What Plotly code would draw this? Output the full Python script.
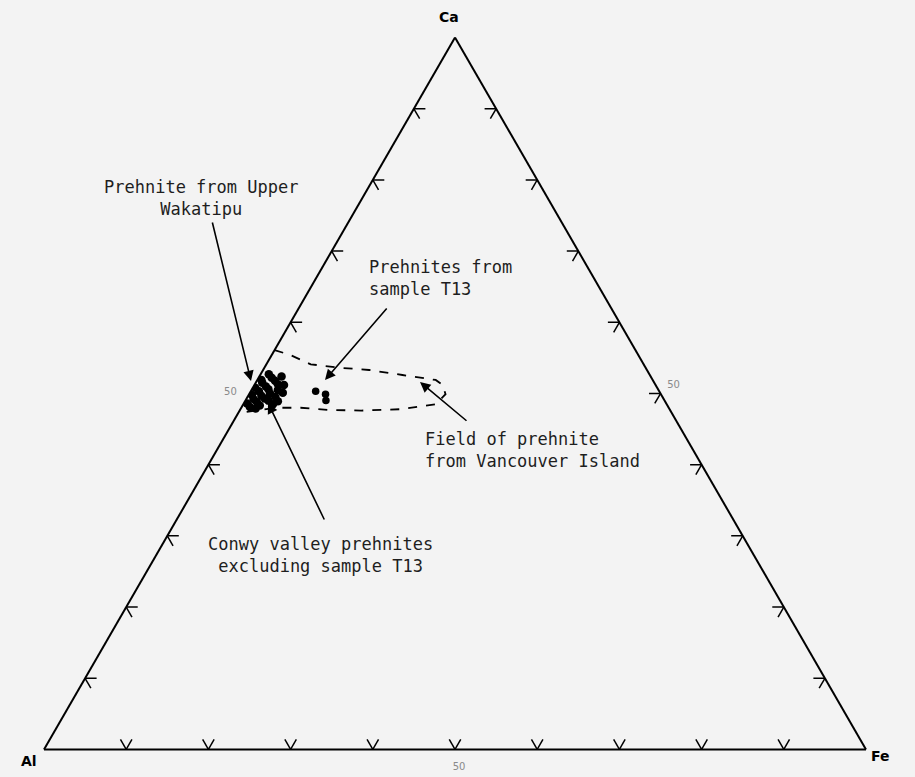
import plotly.graph_objects as go

# ---------------- data (percent, sum = 100) ----------------
# Conwy valley prehnites (excluding T13): Ca, Fe ; Al = 100 - Ca - Fe
conwy_ca = [52.7, 52.2, 51.8, 51.5, 51.3, 51.0, 50.8, 50.6, 50.5, 50.3, 50.0, 49.8,
            49.7, 49.5, 49.3, 49.2, 49.0, 48.8, 48.6, 48.5, 48.3, 48.1, 51.9, 51.2,
            50.1, 48.9, 47.9, 52.4]
conwy_fe = [1.0, 1.6, 2.2, 0.8, 2.8, 1.5, 0.3, 2.0, 3.2, 1.0, 2.5, 0.4,
            1.6, 3.4, 2.2, 0.9, 2.8, 1.5, 0.4, 3.6, 2.1, 1.0, 0.5, 3.6,
            4.0, 4.0, 1.8, 2.7]

# Prehnites from sample T13
t13_ca = [50.3, 49.9, 49.0]
t13_fe = [7.9, 9.3, 9.8]

# Field of prehnite from Vancouver Island (dashed outline)
field_ca = [56.1, 55.4, 54.1, 53.6, 53.3, 52.6, 51.9, 51.2, 49.9, 48.5, 47.8, 47.6,
            47.7, 48.0, 48.0, 47.4]
field_fe = [0.0, 2.3, 5.4, 9.4, 12.9, 17.3, 21.7, 22.9, 23.9, 23.4, 19.6, 14.8,
            10.7, 7.2, 4.3, 0.9]

# Edge tick values (chevrons) and labelled ticks
tick_vals = [10, 20, 30, 40, 50, 60, 70, 80, 90]
label_vals = [50]
label_text = ["50"]

STUB = 1.4  # chevron arm length in percent units


def al_of(ca, fe):
    return [100 - c - f for c, f in zip(ca, fe)]


# ---------------- chevron ticks built from tick values ----------------
ca_t, al_t, fe_t = [], [], []


def seg(p, q):
    for pt in (p, q):
        ca_t.append(pt[0]); al_t.append(pt[1]); fe_t.append(pt[2])
    ca_t.append(None); al_t.append(None); fe_t.append(None)


for v in tick_vals:
    # left edge (Fe = 0), Ca = v
    apex = (v, 100 - v, 0)
    seg(apex, (v, 100 - v - STUB, STUB))
    seg(apex, (v - STUB, 100 - v, STUB))
    # bottom edge (Ca = 0), Fe = v
    apex = (0, 100 - v, v)
    seg(apex, (STUB, 100 - v - STUB, v))
    seg(apex, (STUB, 100 - v, v - STUB))
    # right edge (Al = 0), Ca = v
    apex = (v, 0, 100 - v)
    seg(apex, (v, STUB, 100 - v - STUB))
    seg(apex, (v - STUB, STUB, 100 - v))

fig = go.Figure()

fig.add_trace(go.Scatterternary(
    a=ca_t, b=al_t, c=fe_t, mode="lines",
    line=dict(color="black", width=1.5), hoverinfo="skip", showlegend=False))

fig.add_trace(go.Scatterternary(
    a=field_ca, b=al_of(field_ca, field_fe), c=field_fe, mode="lines",
    line=dict(color="black", width=1.8, dash="dash"), showlegend=False))

fig.add_trace(go.Scatterternary(
    a=conwy_ca, b=al_of(conwy_ca, conwy_fe), c=conwy_fe, mode="markers",
    marker=dict(color="black", size=8.5), showlegend=False))

fig.add_trace(go.Scatterternary(
    a=t13_ca, b=al_of(t13_ca, t13_fe), c=t13_fe, mode="markers",
    marker=dict(color="black", size=7.5), showlegend=False))

W, H = 915, 777


def px(x):
    return x / W


def py(y):
    return 1 - y / H


bg = "#f3f3f3"


def axis(ticklen):
    return dict(
        title=dict(text=""),
        showline=True, linecolor="black", linewidth=2, showgrid=False,
        ticks="outside", ticklen=ticklen, tickcolor=bg, tickwidth=1,
        tickvals=label_vals, ticktext=label_text,
        tickfont=dict(family="DejaVu Sans", size=10, color="#8a8a8a"),
        min=0)


fig.update_layout(
    width=W, height=H,
    margin=dict(l=0, r=0, t=0, b=0),
    paper_bgcolor=bg,
    showlegend=False,
    ternary=dict(
        sum=100,
        bgcolor=bg,
        domain=dict(x=[44 / W, 866 / W], y=[27 / H, 740 / H]),
        aaxis=axis(10),
        baxis=axis(8),
        caxis=axis(8),
    ),
)

# vertex labels
vfont = dict(family="DejaVu Sans", size=14, color="black")
for t, x, y in [("<b>Ca</b>", 449, 17), ("<b>Al</b>", 29, 761), ("<b>Fe</b>", 880, 756)]:
    fig.add_annotation(text=t, x=px(x), y=py(y), xref="paper", yref="paper",
                       xanchor="center", yanchor="middle", showarrow=False, font=vfont)

tfont = dict(family="DejaVu Sans Mono", size=17, color="#1e1e1e")

texts = [
    ("Prehnite from Upper<br>Wakatipu", 201, 198, "center"),
    ("Prehnites from<br>sample T13", 367, 278, "left"),
    ("Field of prehnite<br>from Vancouver Island", 423, 450, "left"),
    ("Conwy valley prehnites<br>excluding sample T13", 320, 555, "center"),
]
for t, x, y, al in texts:
    fig.add_annotation(text=t, x=px(x), y=py(y), xref="paper", yref="paper",
                       xanchor=al, yanchor="middle", align=al,
                       showarrow=False, font=tfont)

# arrows: (tail x, tail y, tip x, tip y)
arrows = [
    (212, 221, 251, 381),
    (388, 307, 325, 380),
    (468, 422, 420, 382),
    (325, 521, 268, 403),
]
for tx, ty, hx, hy in arrows:
    fig.add_annotation(text="", x=px(hx), y=py(hy), xref="paper", yref="paper",
                       ax=tx - hx, ay=ty - hy, showarrow=True,
                       arrowhead=2, arrowsize=1.3, arrowwidth=1.6,
                       arrowcolor="black", standoff=0)

fig.write_html(
    "out.html",
    config={"displayModeBar": False},
    post_script="document.body.style.margin='0px';"
                "document.body.style.background='" + bg + "';",
)
